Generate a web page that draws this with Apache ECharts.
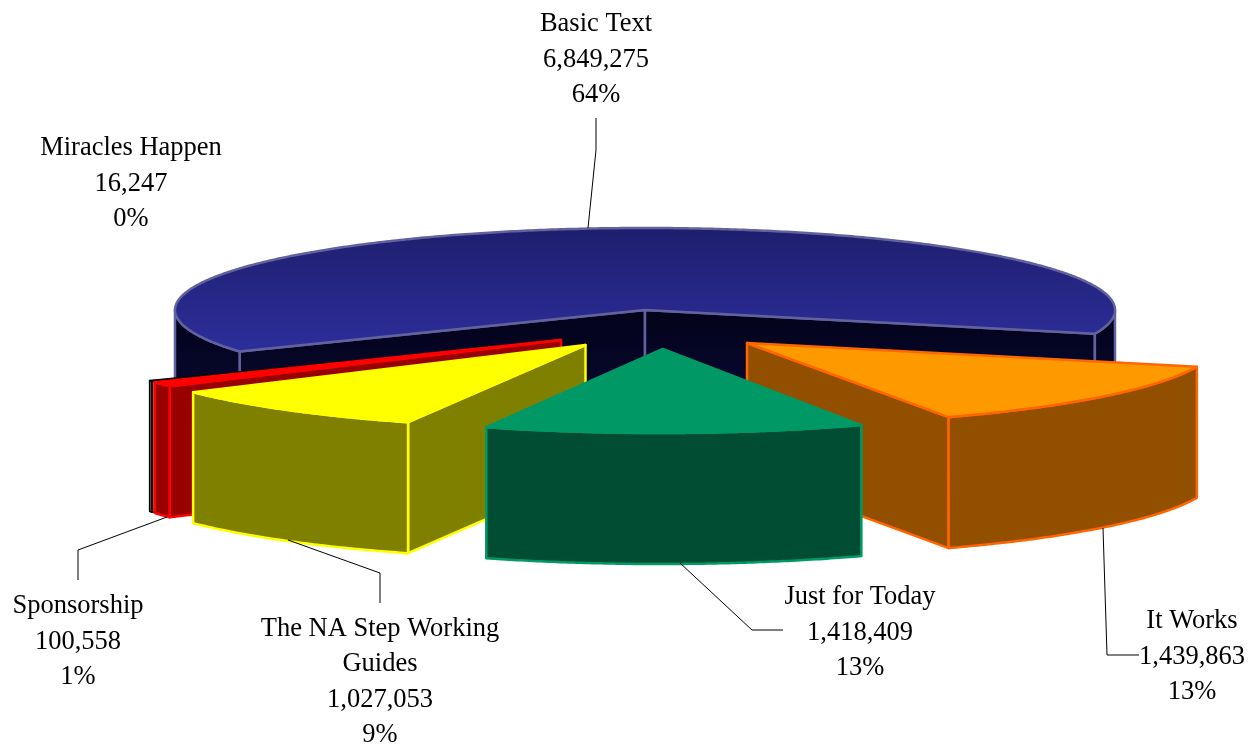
<!DOCTYPE html>
<html>
<head>
<meta charset="utf-8">
<title>Book sales</title>
<script src="https://cdn.jsdelivr.net/npm/echarts@6/dist/echarts.min.js"></script>
<style>
html, body { margin: 0; padding: 0; background: #fff; }
#mainChart { width: 1255px; height: 745px; }
</style>
</head>
<body>
<div id="mainChart"></div>
<script>
// slice data, in pie order going clockwise
var categories = ['Basic Text', 'It Works', 'Just for Today', 'The NA Step Working\nGuides', 'Sponsorship', 'Miracles Happen'];
var bookValues = [6849275, 1439863, 1418409, 1027053, 100558, 16247];
var percentLabels = ['64%', '13%', '13%', '9%', '1%', '0%'];

// back to front
var drawOrder = [0, 5, 4, 3, 1, 2];

// pie shape on the page
var cx = 645, cy = 310, rx = 470, ry = 82, depth = 131;
var firstAngle = 149.6; // where Basic Text starts, degrees clockwise from 3 o'clock

// per slice look, same order as categories.
// dx/dy = how far the slice is pulled out, ax/ay = small nudge of the tip (perspective of the original)
var sliceStyles = [
    { dx: 0, dy: 0, ax: 0, ay: 0, width: 2.5, top: ['#1e1e6e', '#2e2e9c'], wall: ['#03031a', '#0c0c42'], line: '#62629e' },
    { dx: 102, dy: 33, ax: 0, ay: 0, width: 2.5, top: '#ff9900', wall: '#924f00', line: '#ff6600' },
    { dx: 14.7, dy: 41, ax: 3, ay: -2, width: 2.5, top: '#009966', wall: '#004d33', line: '#009966' },
    { dx: -63.5, dy: 36, ax: 4, ay: -1, width: 2.5, top: '#ffff00', wall: '#808000', line: '#ffff00' },
    { dx: -87, dy: 30, ax: 3, ay: 0, width: 2.5, top: '#ff0000', wall: '#990000', line: '#ff0000' },
    { dx: -90, dy: 29, ax: 0, ay: 3, width: 1.5, top: '#ff9999', wall: '#a86464', line: '#000000' }
];

// label centre and leader line for each slice
var labelLayout = [
    { x: 596, y: 60, leader: [[588, 228], [596, 150], [596, 118]] },
    { x: 1192, y: 657, leader: [[1103, 528], [1107, 655], [1139, 655]] },
    { x: 860, y: 633, leader: [[680, 563], [752, 630], [783, 630]] },
    { x: 380, y: 682, leader: [[288, 540], [380, 573], [380, 603]] },
    { x: 78, y: 642, leader: [[167, 517], [78, 550], [78, 580]] },
    { x: 131, y: 184, leader: null }
];

var total = bookValues.reduce(function (a, b) { return a + b; }, 0);

// start and end angle of each slice from its value
var sliceAngles = [];
var running = firstAngle;
bookValues.forEach(function (v) {
    var sweep = v / total * 360;
    sliceAngles.push([running, running + sweep]);
    running += sweep;
});

function formatValue(v) {
    return String(v).replace(/\B(?=(\d{3})+$)/g, ',');
}

function rimPoint(style, deg, down) {
    var a = deg * Math.PI / 180;
    return [cx + style.dx + rx * Math.cos(a), cy + style.dy + ry * Math.sin(a) + down];
}

function fillOf(c) {
    if (typeof c === 'string') {
        return c;
    }
    return new echarts.graphic.LinearGradient(0, 0, 0, 1, [
        { offset: 0, color: c[0] },
        { offset: 1, color: c[1] }
    ]);
}

function face(points, fill, style) {
    return {
        type: 'polygon',
        shape: { points: points },
        style: { fill: fill, stroke: style.line, lineWidth: style.width, lineJoin: 'round' }
    };
}

// outer wall between two angles
function outerWall(style, from, to) {
    var pts = [], i;
    for (i = from; i < to; i += 0.5) {
        pts.push(rimPoint(style, i, 0));
    }
    pts.push(rimPoint(style, to, 0));
    for (i = to; i > from; i -= 0.5) {
        pts.push(rimPoint(style, i, depth));
    }
    pts.push(rimPoint(style, from, depth));
    return face(pts, fillOf(style.wall), style);
}

function renderSlice(params, api) {
    var idx = api.value(0);
    var style = sliceStyles[idx];
    var a0 = sliceAngles[idx][0], a1 = sliceAngles[idx][1];
    var apex = [cx + style.dx + style.ax, cy + style.dy + style.ay];
    var apexLow = [apex[0], apex[1] + depth];
    var children = [];

    // cut faces, only the ones turned towards the viewer
    if (Math.cos(a0 * Math.PI / 180) < 0) {
        children.push(face([apex, rimPoint(style, a0, 0), rimPoint(style, a0, depth), apexLow], fillOf(style.wall), style));
    }
    if (Math.cos(a1 * Math.PI / 180) > 0) {
        children.push(face([apex, rimPoint(style, a1, 0), rimPoint(style, a1, depth), apexLow], fillOf(style.wall), style));
    }

    // rim, front half only (0-180 and 360-540 degrees)
    [[0, 180], [360, 540]].forEach(function (range) {
        var s = Math.max(a0, range[0]), e = Math.min(a1, range[1]);
        if (e > s) {
            children.push(outerWall(style, s, e));
        }
    });

    // top
    var topPts = [apex];
    for (var i = a0; i < a1; i += 0.5) {
        topPts.push(rimPoint(style, i, 0));
    }
    topPts.push(rimPoint(style, a1, 0));
    children.push(face(topPts, fillOf(style.top), style));

    return { type: 'group', children: children };
}

function renderLabel(params, api) {
    var idx = api.value(0);
    var layout = labelLayout[idx];
    var children = [];
    if (layout.leader) {
        children.push({
            type: 'polyline',
            shape: { points: layout.leader },
            style: { fill: null, stroke: '#000', lineWidth: 1 }
        });
    }
    children.push({
        type: 'text',
        style: {
            x: layout.x,
            y: layout.y,
            text: categories[idx] + '\n' + formatValue(bookValues[idx]) + '\n' + percentLabels[idx],
            align: 'center',
            verticalAlign: 'middle',
            fill: '#000',
            fontFamily: '"Liberation Serif", serif',
            fontSize: 26.5,
            lineHeight: 35.5
        }
    });
    return { type: 'group', children: children };
}

var myChart = echarts.init(document.getElementById('mainChart'), null, { renderer: 'canvas' });

myChart.setOption({
    animation: false,
    backgroundColor: '#ffffff',
    tooltip: { show: false },
    series: [{
        type: 'custom',
        coordinateSystem: 'none',
        silent: true,
        renderItem: renderSlice,
        data: drawOrder.map(function (i) { return [i, bookValues[i]]; })
    }, {
        type: 'custom',
        coordinateSystem: 'none',
        silent: true,
        z: 5,
        renderItem: renderLabel,
        data: categories.map(function (c, i) { return [i, bookValues[i]]; })
    }]
});
</script>
</body>
</html>
